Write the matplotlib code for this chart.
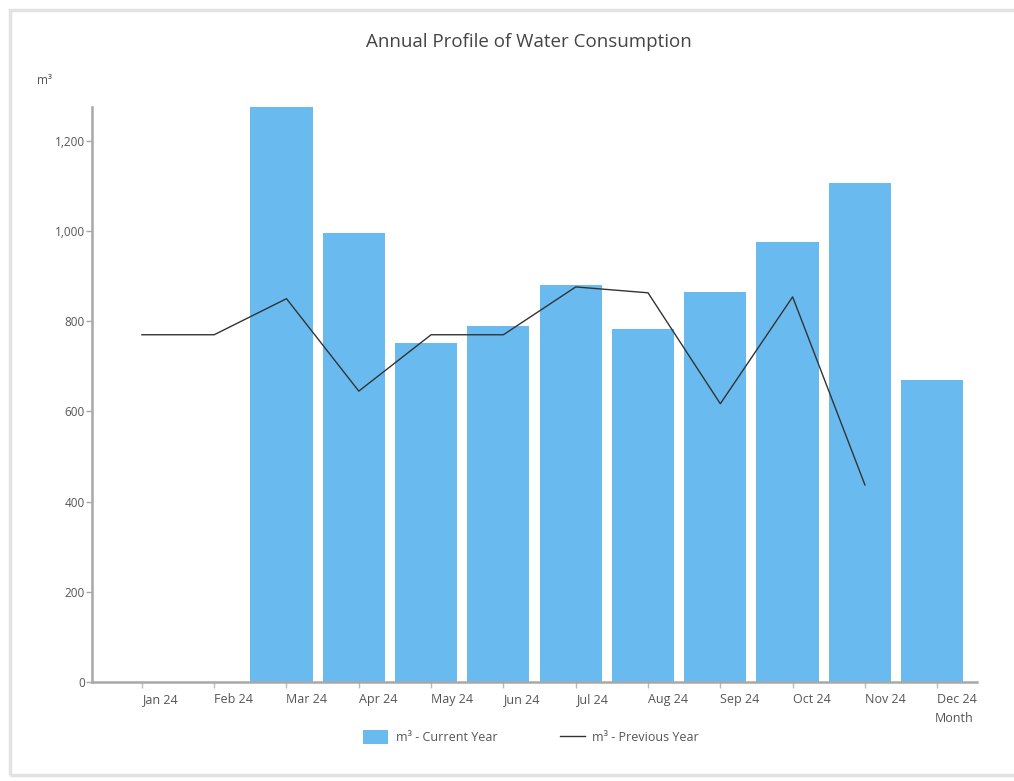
import matplotlib
matplotlib.use("Agg")
import matplotlib.pyplot as plt
from matplotlib.patches import Rectangle, Patch
from matplotlib.lines import Line2D
from matplotlib.ticker import FuncFormatter
import numpy as np

plt.rcParams['font.family'] = ['Open Sans', 'DejaVu Sans']

months = ["Jan 24", "Feb 24", "Mar 24", "Apr 24", "May 24", "Jun 24",
          "Jul 24", "Aug 24", "Sep 24", "Oct 24", "Nov 24", "Dec 24"]
current_year = [np.nan, np.nan, 1275, 996, 752, 790, 881, 783, 865, 976, 1107, 670]
previous_year = [770, 770, 850, 645, 770, 770, 876, 863, 617, 854, 437, np.nan]
y_ticks = [0, 200, 400, 600, 800, 1000, 1200]

bar_color = "#69BBEF"
text_color = "#555555"
axis_color = "#A8A8A8"

fig = plt.figure(figsize=(10.14, 7.81), dpi=100)

# panel frame
fig.patches.append(Rectangle((10 / 1014, 6 / 781), 1.2, 1 - 16 / 781,
                             transform=fig.transFigure, fill=False,
                             edgecolor="#E2E2E2", linewidth=2.5, zorder=0))

ax = fig.add_axes([92 / 1014, 1 - 682 / 781, (977 - 92) / 1014, (682 - 107) / 781])

x = np.arange(len(months))
ax.bar(x - 0.07, current_year, width=0.86, color=bar_color, zorder=2)
ax.plot(x, previous_year, color="#333333", linewidth=1.0, zorder=3)

ax.set_xlim(-0.69, 11.55)
ax.set_ylim(0, 1275)
ax.set_xticks(x)
ax.set_xticklabels(months, ha="left", va="baseline")
ax.set_yticks(y_ticks)
ax.yaxis.set_major_formatter(FuncFormatter(lambda v, p: f"{int(v):,}"))

for side in ("top", "right"):
    ax.spines[side].set_visible(False)
for side in ("left", "bottom"):
    ax.spines[side].set_color(axis_color)
    ax.spines[side].set_linewidth(1.8)

ax.tick_params(axis="y", length=4, width=1, color=axis_color, labelsize=8.5,
               labelcolor=text_color, pad=1)
ax.tick_params(axis="x", length=4, width=1, color="#BBBBBB", labelsize=9,
               labelcolor=text_color, pad=11)

fig.text(529 / 1014, 1 - 42 / 781, "Annual Profile of Water Consumption",
         ha="center", va="center", fontsize=13.5, color="#444444")
fig.text(45 / 1014, 1 - 81 / 781, "m³", ha="center", va="center",
         fontsize=8.5, color=text_color)
fig.text(954 / 1014, 1 - 718 / 781, "Month", ha="center", va="center",
         fontsize=9, color=text_color)

handles = [Patch(facecolor=bar_color, edgecolor="none"),
           Line2D([0], [0], color="#333333", linewidth=1.0)]
labels = ["m³ - Current Year", "m³ - Previous Year"]
fig.legend(handles, labels, loc="center", bbox_to_anchor=(531 / 1014, 1 - 737 / 781),
           ncol=2, frameon=False, fontsize=9, labelcolor=text_color,
           handlelength=2.0, handleheight=1.3, columnspacing=5.0, handletextpad=0.6)

fig.savefig("out.png", dpi=100, facecolor="white")
